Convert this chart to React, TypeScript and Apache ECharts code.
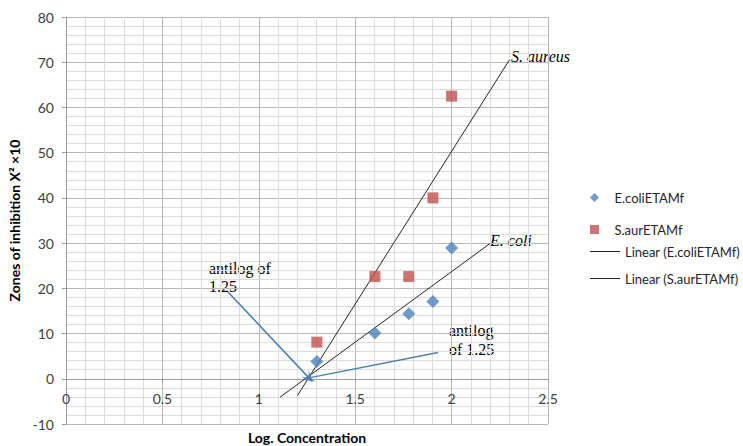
import React, { useEffect, useRef } from "react";
import * as echarts from "echarts";

// Data
const logConcentration = [1.301, 1.602, 1.778, 1.903, 2.0];
const ecoliZones = [3.8, 10.1, 14.4, 17.1, 28.9];
const saurZones = [8.1, 22.6, 22.6, 40.0, 62.5];
const ecoliTrendRange = [1.11, 2.2];
const saurTrendRange = [1.2, 2.3];
const arrowTip = [1.26, 0.2];
const arrowFromLeft = [0.84, 19.2];
const arrowFromRight = [1.93, 5.8];
const xTicks = { min: 0, max: 2.5, interval: 0.5 };
const yTicks = { min: -10, max: 80, interval: 10 };

function fit(xs: number[], ys: number[]) {
  const n = xs.length;
  const mx = xs.reduce((a, b) => a + b, 0) / n;
  const my = ys.reduce((a, b) => a + b, 0) / n;
  let sxy = 0;
  let sxx = 0;
  for (let i = 0; i < n; i++) {
    sxy += (xs[i] - mx) * (ys[i] - my);
    sxx += (xs[i] - mx) * (xs[i] - mx);
  }
  const m = sxy / sxx;
  return { m, b: my - m * mx };
}

const FONT = "Lato, 'Open Sans', sans-serif";
const SERIF = "'Liberation Serif', 'DejaVu Serif', serif";
const ARROW = "path://M5,0 L10,11 L5,6 L0,11 Z";
const DIAMOND_ICON = "path://M5,0 L10,5 L5,10 L0,5 Z";
const SQUARE_ICON = "path://M0,0 L10,0 L10,10 L0,10 Z";
const LINE_ICON = "path://M0,0 L30,0 L30,1 L0,1 Z";

const GRID = { left: 66, right: 195, top: 17, bottom: 22 };
const CHART_H = 446;

export default function App() {
  const ref = useRef<HTMLDivElement>(null);

  useEffect(() => {
    if (!ref.current) return;
    const chart = echarts.init(ref.current, null, { renderer: "svg" });
    const ef = fit(logConcentration, ecoliZones);
    const sf = fit(logConcentration, saurZones);
    const trend = (f: { m: number; b: number }, r: number[]) =>
      r.map((x) => [x, f.m * x + f.b]);

    // x axis crosses the y axis at 0: shift it up from the grid bottom by the y=0 distance
    const plotH = CHART_H - GRID.top - GRID.bottom;
    const zeroOffset = -((0 - yTicks.min) / (yTicks.max - yTicks.min)) * plotH;

    const legendText = { fontFamily: FONT, fontSize: 13, color: "#262626" };

    chart.setOption({
      animation: false,
      backgroundColor: "#ffffff",
      grid: { ...GRID, outerBoundsMode: "none", containLabel: false },
      xAxis: {
        type: "value",
        min: xTicks.min,
        max: xTicks.max,
        interval: xTicks.interval,
        position: "bottom",
        offset: zeroOffset,
        name: "Log. Concentration",
        nameLocation: "middle",
        nameGap: 52,
        nameTextStyle: { fontFamily: FONT, fontSize: 14, fontWeight: "bold", color: "#000" },
        axisLine: { show: true, onZero: false, lineStyle: { color: "#9a9a9a", width: 1 } },
        axisTick: { show: true, length: 4, lineStyle: { color: "#9a9a9a" } },
        axisLabel: { fontFamily: FONT, fontSize: 14, color: "#404040", margin: 13 },
        splitLine: { show: true, lineStyle: { color: "#b8b8b8", width: 1 } },
        minorTick: { show: false, splitNumber: 5 },
        minorSplitLine: { show: true, lineStyle: { color: "#dcdcdc", width: 1 } },
      },
      yAxis: {
        type: "value",
        min: yTicks.min,
        max: yTicks.max,
        interval: yTicks.interval,
        name: "Zones of inhibition X² ×10",
        nameLocation: "middle",
        nameGap: 37,
        nameTextStyle: { fontFamily: FONT, fontSize: 14, fontWeight: "bold", color: "#000" },
        axisLine: { show: true, onZero: false, lineStyle: { color: "#9a9a9a", width: 1 } },
        axisTick: { show: true, length: 4, lineStyle: { color: "#9a9a9a" } },
        axisLabel: { fontFamily: FONT, fontSize: 14, color: "#404040", margin: 12 },
        splitLine: { show: true, lineStyle: { color: "#b8b8b8", width: 1 } },
        minorTick: { show: false, splitNumber: 5 },
        minorSplitLine: { show: true, lineStyle: { color: "#dcdcdc", width: 1 } },
      },
      legend: [
        {
          orient: "vertical",
          left: 585,
          top: 186,
          itemWidth: 30,
          itemHeight: 9,
          itemGap: 19,
          symbolKeepAspect: true,
          textStyle: legendText,
          data: [
            { name: "E.coliETAMf", icon: DIAMOND_ICON },
            { name: "S.aurETAMf", icon: SQUARE_ICON },
          ],
        },
        {
          orient: "vertical",
          left: 585,
          top: 240,
          itemWidth: 30,
          itemHeight: 14,
          itemGap: 14,
          symbolKeepAspect: true,
          textStyle: legendText,
          data: [
            { name: "Linear (E.coliETAMf)", icon: LINE_ICON },
            { name: "Linear (S.aurETAMf)", icon: LINE_ICON },
          ],
        },
      ],
      series: [
        {
          name: "E.coliETAMf",
          type: "scatter",
          symbol: "diamond",
          symbolSize: 13,
          itemStyle: { color: "#4F81BD" },
          data: logConcentration.map((x, i) => [x, ecoliZones[i]]),
          z: 5,
          markLine: {
            silent: true,
            symbol: ["none", ARROW],
            symbolSize: [10, 11],
            label: { show: false },
            lineStyle: { color: "#4A7EBB", width: 1.5, type: "solid" },
            data: [
              [{ coord: arrowFromLeft }, { coord: arrowTip }],
              [{ coord: arrowFromRight }, { coord: arrowTip }],
            ],
          },
        },
        {
          name: "S.aurETAMf",
          type: "scatter",
          symbol: "rect",
          symbolSize: 11,
          itemStyle: { color: "#C0504D" },
          data: logConcentration.map((x, i) => [x, saurZones[i]]),
          z: 5,
        },
        {
          name: "Linear (E.coliETAMf)",
          type: "line",
          symbol: "none",
          color: "#262626",
          lineStyle: { color: "#262626", width: 1 },
          data: trend(ef, ecoliTrendRange),
          z: 4,
        },
        {
          name: "Linear (S.aurETAMf)",
          type: "line",
          symbol: "none",
          color: "#262626",
          lineStyle: { color: "#262626", width: 1 },
          data: trend(sf, saurTrendRange),
          z: 4,
        },
      ],
      graphic: [
        {
          type: "text",
          left: 511,
          top: 48,
          style: { text: "S. aureus", font: `italic 16px ${SERIF}`, fill: "#000" },
        },
        {
          type: "text",
          left: 490,
          top: 232,
          style: { text: "E. coli", font: `italic 16px ${SERIF}`, fill: "#000" },
        },
        {
          type: "text",
          left: 209,
          top: 259,
          style: { text: "antilog of\n1.25", font: `16px ${SERIF}`, lineHeight: 18, fill: "#000" },
        },
        {
          type: "text",
          left: 449,
          top: 321,
          style: { text: "antilog\nof 1.25", font: `16px ${SERIF}`, lineHeight: 19, fill: "#000" },
        },
      ],
    });
    return () => chart.dispose();
  }, []);

  return (
    <div
      ref={ref}
      style={{ position: "fixed", left: 0, top: 0, width: 743, height: CHART_H, background: "#fff" }}
    />
  );
}
